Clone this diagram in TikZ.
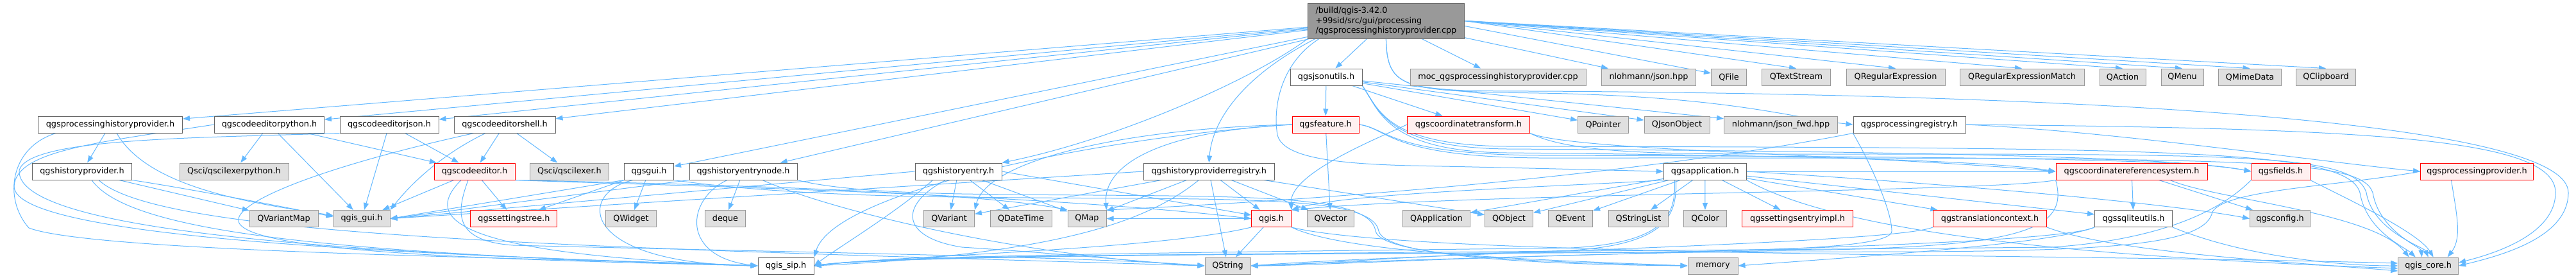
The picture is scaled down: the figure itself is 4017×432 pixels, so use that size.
\documentclass[tikz,border=0pt]{standalone}
\usepackage{fontspec}
\setmainfont{DejaVu Sans}
\usetikzlibrary{arrows.meta}
\definecolor{edgec}{HTML}{63B8FF}
\definecolor{greyfill}{HTML}{E0E0E0}
\definecolor{greydraw}{HTML}{999999}
\definecolor{darkdraw}{HTML}{666666}
\definecolor{redfill}{HTML}{FFF0F0}
\definecolor{reddraw}{HTML}{FF0000}
\pgfdeclarelayer{bg}
\pgfsetlayers{bg,main}
\begin{document}
\begin{tikzpicture}[x=1pt,y=-1pt,
  box/.style={rectangle, minimum height=26pt, inner xsep=3pt, inner ysep=0pt, line width=1pt, font=\fontsize{12.8}{15.4}\selectfont, text=black},
  gbox/.style={box, draw=greydraw, fill=greyfill},
  wbox/.style={box, draw=darkdraw, fill=white},
  rbox/.style={box, draw=reddraw, fill=redfill},
  mbox/.style={box, draw=darkdraw, fill=greydraw, align=left, minimum height=55pt, inner xsep=10pt},
  e/.style={draw=edgec, line width=1pt, -{Triangle[length=11pt,width=8pt]}},
]
\useasboundingbox (0,0) rectangle (4017,432);

% ---------- nodes ----------
\node[mbox, minimum width=244pt] (main) at (2161.4,32.5) {/build/qgis-3.42.0\\+99sid/src/gui/processing\\/qgsprocessinghistoryprovider.cpp};

% row 1
\node[wbox, minimum width=112pt] (ju) at (2068,120) {qgsjsonutils.h};
\node[gbox, minimum width=274pt] (moc) at (2336,120) {moc\_qgsprocessinghistoryprovider.cpp};
\node[gbox, minimum width=147pt] (njson) at (2571,120) {nlohmann/json.hpp};
\node[gbox, minimum width=55pt] (qfile) at (2696,120) {QFile};
\node[gbox, minimum width=107pt] (qtextstream) at (2801,120) {QTextStream};
\node[gbox, minimum width=154pt] (qregexp) at (2956,120) {QRegularExpression};
\node[gbox, minimum width=194pt] (qregexpm) at (3153,120) {QRegularExpressionMatch};
\node[gbox, minimum width=72pt] (qaction) at (3310,120) {QAction};
\node[gbox, minimum width=66pt] (qmenu) at (3403,120) {QMenu};
\node[gbox, minimum width=98pt] (qmime) at (3508.5,120) {QMimeData};
\node[gbox, minimum width=93pt] (qclip) at (3627,120) {QClipboard};

% row 2
\node[wbox, minimum width=225pt] (ppp) at (172,194) {qgsprocessinghistoryprovider.h};
\node[wbox, minimum width=171pt] (cep) at (420,194) {qgscodeeditorpython.h};
\node[wbox, minimum width=154pt] (cej) at (607,194) {qgscodeeditorjson.h};
\node[wbox, minimum width=158pt] (ces) at (787,194) {qgscodeeditorshell.h};
\node[rbox, minimum width=104pt] (feat) at (2067,194) {qgsfeature.h};
\node[rbox, minimum width=191pt] (ct) at (2290,194) {qgscoordinatetransform.h};
\node[gbox, minimum width=79pt] (qpointer) at (2500,194) {QPointer};
\node[gbox, minimum width=102pt] (qjson) at (2615,194) {QJsonObject};
\node[gbox, minimum width=177pt] (njsonfwd) at (2777,194) {nlohmann/json\_fwd.hpp};
\node[wbox, minimum width=175pt] (preg) at (2977.5,194) {qgsprocessingregistry.h};

% row 3
\node[wbox, minimum width=155pt] (hp) at (128,267) {qgshistoryprovider.h};
\node[gbox, minimum width=170pt] (qscipy) at (365,267) {Qsci/qscilexerpython.h};
\node[rbox, minimum width=126pt] (ce) at (740,267) {qgscodeeditor.h};
\node[gbox, minimum width=123pt] (qsci) at (888,267) {Qsci/qscilexer.h};
\node[wbox, minimum width=77pt] (qgui) at (1012,267) {qgsgui.h};
\node[wbox, minimum width=168pt] (hen) at (1159,267) {qgshistoryentrynode.h};
\node[wbox, minimum width=135pt] (he) at (1494.5,267) {qgshistoryentry.h};
\node[wbox, minimum width=204pt] (reg) at (1885.3,267) {qgshistoryproviderregistry.h};
\node[wbox, minimum width=129pt] (app) at (2658.7,267) {qgsapplication.h};
\node[rbox, minimum width=236pt] (crs) at (3324,267) {qgscoordinatereferencesystem.h};
\node[rbox, minimum width=91pt] (fields) at (3556.5,267) {qgsfields.h};
\node[rbox, minimum width=176pt] (pprov) at (3862.5,267) {qgsprocessingprovider.h};

% row 4
\node[gbox, minimum width=107pt] (qvmap) at (442.6,340.5) {QVariantMap};
\node[gbox, minimum width=88pt] (qgisgui) at (564,340.5) {qgis\_gui.h};
\node[rbox, minimum width=135pt] (stree) at (801.4,340.5) {qgssettingstree.h};
\node[gbox, minimum width=79pt] (qwidget) at (984,340.5) {QWidget};
\node[gbox, minimum width=62.5pt] (deque) at (1131,340.5) {deque};
\node[gbox, minimum width=79pt] (qvariant) at (1480,340.5) {QVariant};
\node[gbox, minimum width=96pt] (qdatetime) at (1592,340.5) {QDateTime};
\node[gbox, minimum width=60pt] (qmap) at (1695,340.5) {QMap};
\node[rbox, minimum width=62pt] (qgish) at (1982.5,340.5) {qgis.h};
\node[gbox, minimum width=73pt] (qvector) at (2075,340.5) {QVector};
\node[gbox, minimum width=105pt] (qapp) at (2240,340.5) {QApplication};
\node[gbox, minimum width=75pt] (qobject) at (2353,340.5) {QObject};
\node[gbox, minimum width=69pt] (qevent) at (2449,340.5) {QEvent};
\node[gbox, minimum width=93pt] (qstrlist) at (2555,340.5) {QStringList};
\node[gbox, minimum width=67pt] (qcolor) at (2659,340.5) {QColor};
\node[rbox, minimum width=173pt] (sentry) at (2803,340.5) {qgssettingsentryimpl.h};
\node[rbox, minimum width=177pt] (tc) at (3103,340.5) {qgstranslationcontext.h};
\node[wbox, minimum width=121pt] (sqlite) at (3327,340.5) {qgssqliteutils.h};
\node[gbox, minimum width=94pt] (config) at (3555.5,340.5) {qgsconfig.h};

% row 5
\node[wbox, minimum width=87pt] (qgissip) at (1225.6,414) {qgis\_sip.h};
\node[gbox, minimum width=71pt] (qstring) at (1914.5,414) {QString};
\node[gbox, minimum width=78pt] (memory) at (2671,414) {memory};
\node[gbox, minimum width=94pt] (core) at (3786.6,414) {qgis\_core.h};

% ---------- edges ----------
\begin{pgfonlayer}{bg}
% main
\draw[e] (main) -- (ppp);
\draw[e] (main) -- (cep);
\draw[e] (main) -- (cej);
\draw[e] (main) -- (ces);
\draw[e] (main) -- (qgui);
\draw[e] (main) -- (hen);
\draw[e] (main.south west) .. controls (1960,120) and (1750,215) .. (he.north east);
\draw[e] ([xshift=12pt]main.south west) .. controls (1935,120) and (1890,190) .. (reg.north);
\draw[e] (main) -- (ju);
\draw[e] (main) -- (moc);
\draw[e] (main) -- (njson);
\draw[e] ([yshift=-8pt]main.east) -- ([yshift=6pt]qfile.west);
\draw[e] (main.east) -- (qtextstream.north);
\draw[e] (main.east) -- (qregexp.north);
\draw[e] (main.east) -- (qregexpm.north);
\draw[e] (main.east) -- (qaction.north);
\draw[e] (main.east) -- (qmenu.north);
\draw[e] (main.east) -- (qmime.north);
\draw[e] (main.east) -- (qclip.north);
\draw[e] ([xshift=18pt]main.south west) .. controls (1995,100) and (1985,170) .. (1992,210) .. controls (2000,245) and (2080,255) .. (2200,258) .. controls (2400,262) and (2500,265) .. (app.west);
\draw[e] (main.south) .. controls (2163,140) and (2190,142) .. (2400,145) .. controls (2700,150) and (2800,185) .. (preg.west);
\draw[e] (main.south) .. controls (2163,140) and (2190,142) .. (2400,142) .. controls (3400,148) and (4005,200) .. (4005,300) .. controls (4005,370) and (3900,398) .. (core.east);

% qgsprocessinghistoryprovider.h
\draw[e] (ppp) -- (hp);
\draw[e] ([xshift=10pt]ppp.south) .. controls (230,290) and (380,315) .. ([yshift=5pt]qgisgui.west);
\draw[e] ([xshift=-85pt]ppp.south) .. controls (15,230) and (5,310) .. (45,355) .. controls (150,395) and (900,402) .. (qgissip.west);

% qgshistoryprovider.h
\draw[e] (hp) -- (qvmap);
\draw[e] (hp.south east) .. controls (300,295) and (420,318) .. ([yshift=3pt]qgisgui.west);
\draw[e] ([xshift=15pt]hp.south) .. controls (200,360) and (500,395) .. (qgissip.west);
\draw[e] ([xshift=26pt]hp.south) .. controls (250,370) and (900,385) .. (qstring.west);

% qgscodeeditorpython.h
\draw[e] (cep) -- (qscipy);
\draw[e] (cep) -- (qgisgui);
\draw[e] (cep) -- (ce);
\draw[e] (cep.west) .. controls (150,222) and (25,235) .. (22,290) .. controls (20,375) and (700,398) .. (qgissip.west);

% qgscodeeditorjson.h
\draw[e] (cej) -- (qgisgui);
\draw[e] (cej) -- (ce);
\draw[e] (cej.south west) .. controls (300,215) and (45,215) .. (30,265) .. controls (22,370) and (650,398) .. (qgissip.west);

% qgscodeeditorshell.h
\draw[e] (ces) -- (ce);
\draw[e] (ces) -- (qsci);
\draw[e] ([xshift=-30pt]ces.south) .. controls (700,235) and (650,275) .. (qgisgui.north east);
\draw[e] ([xshift=-48pt]ces.south) .. controls (500,260) and (365,315) .. (372,345) .. controls (385,395) and (800,405) .. (qgissip.west);

% qgscodeeditor.h
\draw[e] (ce) -- (stree);
\draw[e] (ce) -- (qgisgui);
\draw[e] ([xshift=-21pt]ce.south) .. controls (670,330) and (665,395) .. (qgissip.west);
\draw[e] ([xshift=-10pt]ce.south) .. controls (712,330) and (705,375) .. (800,382) .. controls (1200,392) and (1700,400) .. (qstring.west);
\draw[e] (ce.south east) .. controls (1000,288) and (1600,300) .. (qgish.west);
\draw[e] (ce.south east) .. controls (1000,285) and (1500,295) .. (qmap.north west);

% qgsgui.h
\draw[e] (qgui) -- (qwidget);
\draw[e] (qgui) -- (stree);
\draw[e] (qgui.south west) -- (qgisgui.east);
\draw[e] ([xshift=-25pt]qgui.south) .. controls (900,300) and (900,410) .. (qgissip.west);
\draw[e] (qgui.south east) .. controls (1150,295) and (1300,305) .. (1500,307) .. controls (1900,312) and (2140,300) .. (2150,360) .. controls (2160,400) and (2400,412) .. (memory.west);

% qgshistoryentrynode.h
\draw[e] (hen) -- (deque);
\draw[e] (hen.south west) -- (qgisgui.east);
\draw[e] ([xshift=-25pt]hen.south) .. controls (1070,310) and (1060,400) .. (qgissip.west);
\draw[e] ([xshift=30pt]hen.south) .. controls (1300,330) and (1600,400) .. (qstring.west);
\draw[e] (hen.south east) .. controls (1300,295) and (1400,300) .. (1500,302) .. controls (1900,308) and (2135,295) .. (2145,360) .. controls (2155,400) and (2400,408) .. (memory.west);

% qgshistoryentry.h
\draw[e] (he) -- (qvariant);
\draw[e] (he) -- (qdatetime);
\draw[e] (he) -- (qmap);
\draw[e] (he.west) -- (qgisgui.east);
\draw[e] ([xshift=-20pt]he.south) .. controls (1400,320) and (1405,370) .. (1500,385) .. controls (1700,398) and (1800,410) .. (qstring.west);
\draw[e] ([xshift=-40pt]he.south) .. controls (1400,330) and (1300,390) .. (qgissip.east);
\draw[e] (he.east) -- (qgish);

% qgshistoryproviderregistry.h
\draw[e] (reg.west) -- (qgisgui.east);
\draw[e] (reg) -- (qvariant);
\draw[e] (reg) -- (qmap);
\draw[e] ([xshift=-16pt]reg.south) .. controls (1790,345) and (1650,395) .. (qgissip.east);
\draw[e] (reg) -- (qstring);
\draw[e] (reg) -- (qgish);
\draw[e] (reg) -- (qobject);
\draw[e] (reg) -- (qvector);

% qgsjsonutils.h
\draw[e] (ju) -- (feat);
\draw[e] (ju) -- (ct);
\draw[e] (ju) -- (qpointer);
\draw[e] (ju) -- (qjson);
\draw[e] (ju) -- (njsonfwd);
\draw[e] (ju.south east) .. controls (2150,170) and (2160,236) .. (2350,238) .. controls (2800,242) and (3100,250) .. (crs.west);
\draw[e] (ju.south east) .. controls (2150,170) and (2160,230) .. (2350,232) .. controls (3000,236) and (3400,245) .. (fields.west);
\draw[e] (ju.south east) .. controls (2150,170) and (2160,226) .. (2350,228) .. controls (3400,230) and (3660,232) .. (3680,300) .. controls (3690,360) and (3750,385) .. ([xshift=-20pt]core.north);

% qgsfeature.h
\draw[e] (feat) -- (qvector);
\draw[e] (feat.west) .. controls (1800,205) and (1720,260) .. (qmap.north east);
\draw[e] (feat.west) .. controls (1750,200) and (1540,250) .. (qvariant.north east);
\draw[e] (feat.west) .. controls (1700,215) and (1300,300) .. (qgissip.north east);
\draw[e] (feat.east) .. controls (2165,200) and (2165,240) .. (2400,242) .. controls (3200,244) and (3420,250) .. (fields.west);
\draw[e] (feat.east) .. controls (2165,200) and (2165,244) .. (2400,246) .. controls (3500,246) and (3680,244) .. (3700,300) .. controls (3710,360) and (3775,385) .. ([xshift=-10pt]core.north);

% qgscoordinatetransform.h
\draw[e] (ct.south east) .. controls (2450,235) and (2900,240) .. (crs.west);
\draw[e] (ct.south east) .. controls (2450,240) and (2600,240) .. (2800,240) .. controls (3500,240) and (3670,238) .. (3690,300) .. controls (3700,360) and (3780,385) .. (core.north);
\draw[e] (ct.west) .. controls (2150,215) and (2010,270) .. (qgish.north east);

% qgsprocessingregistry.h
\draw[e] (preg.east) .. controls (3300,205) and (3600,250) .. (pprov.west);
\draw[e] (preg.east) .. controls (3700,200) and (3985,215) .. (3985,300) .. controls (3985,365) and (3890,395) .. ([yshift=5pt]core.east);
\draw[e] (preg.south west) .. controls (2700,245) and (2300,300) .. (qmap.north east);
\draw[e] (preg.south west) .. controls (2920,260) and (2950,330) .. (2950,360) .. controls (2950,390) and (2700,392) .. (2400,394) .. controls (1800,396) and (1400,398) .. (qgissip.east);

% qgsapplication.h
\draw[e] (app) -- (qapp);
\draw[e] (app) -- (qobject);
\draw[e] (app) -- (qevent);
\draw[e] (app) -- (qstrlist);
\draw[e] (app) -- (qcolor);
\draw[e] (app) -- (sentry);
\draw[e] (app) -- (tc);
\draw[e] (app) -- (crs);
\draw[e] (app) -- (sqlite);
\draw[e] (app.east) .. controls (3100,290) and (3400,320) .. (config.west);
\draw[e] (app.south east) .. controls (2900,380) and (3400,405) .. ([yshift=-4pt]core.west);
\draw[e] (app.south west) .. controls (2450,290) and (2100,300) .. (qgish.north east);
\draw[e] ([xshift=-47pt]app.south) .. controls (2612,330) and (2605,378) .. (2450,386) .. controls (2000,392) and (1400,396) .. (qgissip.east);
\draw[e] ([xshift=-45pt]app.south) .. controls (2614,330) and (2607,380) .. (2450,390) .. controls (2200,398) and (2050,412) .. (qstring.east);

% qgscoordinatereferencesystem.h
\draw[e] (crs) -- (sqlite);
\draw[e] (crs) -- (config);
\draw[e] ([xshift=60pt]crs.south) .. controls (3450,310) and (3700,330) .. ([xshift=-30pt]core.north);
\draw[e] (crs.south west) .. controls (3100,300) and (2300,300) .. (qgish.north east);
\draw[e] (crs.south west) .. controls (3228,360) and (3150,385) .. (2800,390) .. controls (2300,398) and (2050,414) .. (qstring.east);

% qgsfields.h
\draw[e] (fields.south east) .. controls (3640,300) and (3770,360) .. ([xshift=8pt]core.north);
\draw[e] (fields.south west) .. controls (3490,300) and (3420,370) .. (3200,385) .. controls (2500,392) and (1400,395) .. (qgissip.east);

% qgsprocessingprovider.h
\draw[e] ([xshift=-40pt]pprov.south) .. controls (3830,330) and (3840,370) .. ([xshift=30pt]core.north);
\draw[e] (pprov.west) .. controls (3650,290) and (3470,295) .. (3450,330) .. controls (3440,380) and (3300,390) .. (3000,392) .. controls (2200,394) and (1400,396) .. (qgissip.east);

% qgssqliteutils.h
\draw[e] (sqlite.south east) .. controls (3500,400) and (3650,414) .. (core.west);
\draw[e] (sqlite.south west) .. controls (3200,380) and (2900,400) .. (memory.east);
\draw[e] (sqlite.south west) .. controls (3200,385) and (2400,395) .. (qstring.east);

% qgstranslationcontext.h
\draw[e] (tc.south east) .. controls (3300,395) and (3600,410) .. ([yshift=-8pt]core.west);
\draw[e] (tc.south west) .. controls (2950,380) and (2200,395) .. (qstring.east);

% qgis.h
\draw[e] (qgish) -- (qmap);
\draw[e] (qgish.south west) .. controls (1800,390) and (1400,398) .. (qgissip.east);
\draw[e] (qgish) -- (qstring);
\draw[e] (qgish.south east) .. controls (2100,395) and (2400,405) .. (memory.west);
\draw[e] (qgish.south east) .. controls (2200,400) and (3200,395) .. ([yshift=4pt]core.west);
\end{pgfonlayer}
\end{tikzpicture}
\end{document}
